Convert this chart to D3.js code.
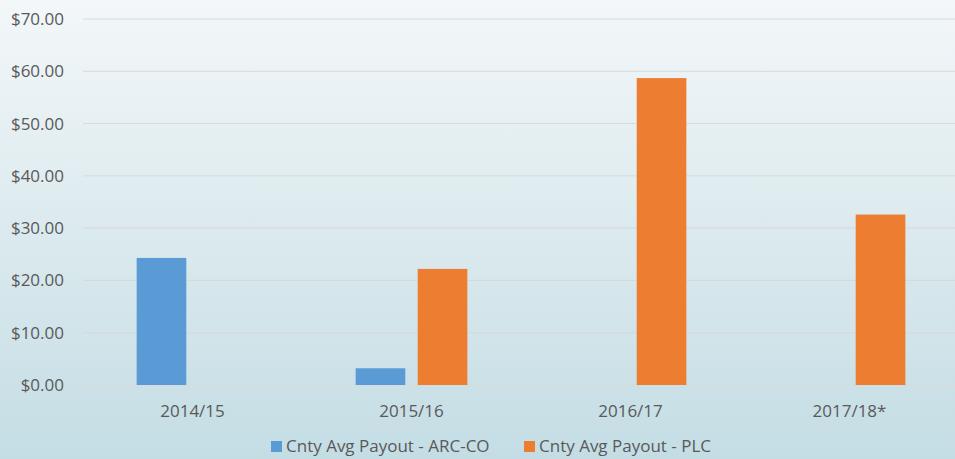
<!DOCTYPE html>
<html>
<head>
<meta charset="utf-8">
<script src="https://cdn.jsdelivr.net/npm/d3@7"></script>
<style>
  html, body { margin: 0; padding: 0; overflow: hidden; }
  body { width: 955px; height: 459px; }
  text { font-family: "Open Sans", sans-serif; fill: #595959; }
</style>
</head>
<body>
<script>
// chart data
const years = ["2014/15", "2015/16", "2016/17", "2017/18*"];
const seriesNames = ["Cnty Avg Payout - ARC-CO", "Cnty Avg Payout - PLC"];
const arcco = [24.3, 3.2, null, null];
const plc = [null, 22.2, 58.7, 32.6];
const yTicks = [0, 10, 20, 30, 40, 50, 60, 70];
const colors = ["#5B9BD5", "#ED7D31"];

const width = 955, height = 459;

const svg = d3.select("body").append("svg")
    .attr("width", width)
    .attr("height", height);

let grad = svg.append("defs").append("linearGradient")
    .attr("id", "bg")
    .attr("x1", 0).attr("y1", 0).attr("x2", 0).attr("y2", 1);
grad.append("stop").attr("offset", "0%").attr("stop-color", "#f3f7f9");
grad.append("stop").attr("offset", "100%").attr("stop-color", "#c4dde4");

svg.append("rect")
    .attr("width", width)
    .attr("height", height)
    .attr("fill", "url(#bg)");

let x0 = d3.scaleBand()
    .domain(years)
    .range([83, 959])
    .paddingInner(0.49)
    .paddingOuter(0.245);

let x1 = d3.scaleBand()
    .domain(seriesNames)
    .range([0, x0.bandwidth()])
    .paddingInner(0.2);

let y = d3.scaleLinear()
    .domain([0, 70])
    .range([385, 19]);

// gridlines
svg.selectAll(".grid")
    .data(yTicks)
    .enter().append("line")
    .attr("class", "grid")
    .attr("x1", 83)
    .attr("x2", width)
    .attr("y1", d => y(d))
    .attr("y2", d => y(d))
    .attr("stroke", "#d9d9d9")
    .attr("stroke-width", 1);

// y labels
svg.selectAll(".ylab")
    .data(yTicks)
    .enter().append("text")
    .attr("class", "ylab")
    .attr("x", 64)
    .attr("y", d => y(d))
    .attr("dy", "0.35em")
    .attr("text-anchor", "end")
    .style("font-size", "17px")
    .text(d => "$" + d.toFixed(2));

// bars
const allSeries = [arcco, plc];
allSeries.forEach(function (vals, si) {
    let data = years.map((c, i) => ({ cat: c, v: vals[i] })).filter(d => d.v != null);
    svg.selectAll(".bar" + si)
        .data(data)
        .enter().append("rect")
        .attr("class", "bar" + si)
        .attr("x", d => x0(d.cat) + x1(seriesNames[si]))
        .attr("width", x1.bandwidth())
        .attr("y", d => y(d.v))
        .attr("height", d => y(0) - y(d.v))
        .attr("fill", colors[si]);
});

// x labels
svg.selectAll(".xlab")
    .data(years)
    .enter().append("text")
    .attr("class", "xlab")
    .attr("x", d => x0(d) + x0.bandwidth() / 2)
    .attr("y", 411)
    .attr("dy", "0.35em")
    .attr("text-anchor", "middle")
    .style("font-size", "17px")
    .text(d => d);

// legend
const legendX = [271, 524];
let leg = svg.selectAll(".leg")
    .data(seriesNames)
    .enter().append("g")
    .attr("class", "leg")
    .attr("transform", (d, i) => "translate(" + legendX[i] + ",446)");
leg.append("rect")
    .attr("x", 0)
    .attr("y", -5)
    .attr("width", 11)
    .attr("height", 11)
    .attr("fill", (d, i) => colors[i]);
leg.append("text")
    .attr("x", 15)
    .attr("y", 0)
    .attr("dy", "0.35em")
    .style("font-size", "17px")
    .text(d => d);
</script>
</body>
</html>
